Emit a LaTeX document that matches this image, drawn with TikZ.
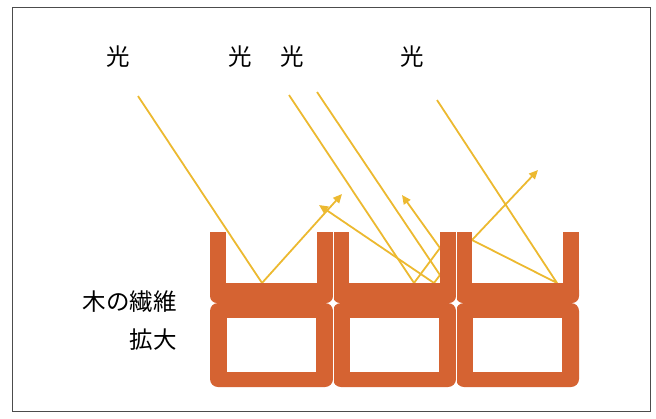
\documentclass[tikz,border=0pt]{standalone}
\usepackage{fontspec}
\newfontfamily\jp{Noto Sans CJK JP}
\usetikzlibrary{arrows.meta}
\definecolor{fibre}{RGB}{213,99,50}
\definecolor{ray}{RGB}{236,185,48}

\begin{document}
\begin{tikzpicture}[x=1pt,y=-1pt,
  label text/.style={font=\jp\fontsize{23.5}{24}\selectfont,inner sep=0pt},
  light/.style={draw=ray,line width=1.8pt,line join=round},
  tip/.style={-{Triangle[length=9pt,width=8pt]}}]
  \useasboundingbox (0,0) rectangle (656,418);
  \draw[gray!60!black,line width=1pt] (12,7) rectangle (650,411);

  \node[label text] (l1) at (118,57) {光};
  \node[label text] (l2) at (240,57) {光};
  \node[label text] (l3) at (292,57) {光};
  \node[label text] (l4) at (412,57) {光};
  \node[label text,anchor=east] (fibre) at (177,302) {木の繊維};
  \node[label text,anchor=east] (zoom) at (177,340) {拡大};

  % incoming and reflected rays
  \coordinate (a0) at (138,96);
  \coordinate (a1) at (262,283);
  \coordinate (a2) at (342,194);
  \coordinate (b0) at (289,95);
  \coordinate (b1) at (414,283);
  \coordinate (b2) at (440,248);
  \coordinate (b3) at (402,195);
  \coordinate (c0) at (317,92);
  \coordinate (c1) at (440,275);
  \coordinate (c2) at (434,283);
  \coordinate (c3) at (319,205);
  \coordinate (d0) at (437,100);
  \coordinate (d1) at (557,283);
  \coordinate (d2) at (472,240);
  \coordinate (d3) at (538,170);
  \path[light,tip] (a0) -- (a1) -- (a2);
  \path[light,tip] (b0) -- (b1) -- (b2) -- (b3);
  \path[light,tip] (c0) -- (c1) -- (c2) -- (c3);
  \path[light,tip] (d0) -- (d1) -- (d2) -- (d3);

  % three fibre cells
  \foreach \x in {210,333,456} {
    \fill[fibre] (\x,232) rectangle (\x+16,295);
    \fill[fibre] (\x+107,232) rectangle (\x+123,295);
    \fill[fibre,rounded corners=7pt] (\x,283) rectangle (\x+123,303);
    \fill[fibre,rounded corners=8pt] (\x,303) rectangle (\x+123,387);
    \fill[white] (\x+17,318) rectangle (\x+106,372);
  }
  \foreach \x in {333,456}
    \draw[white,line width=0.5pt] (\x,232) -- (\x,387);
\end{tikzpicture}
\end{document}
